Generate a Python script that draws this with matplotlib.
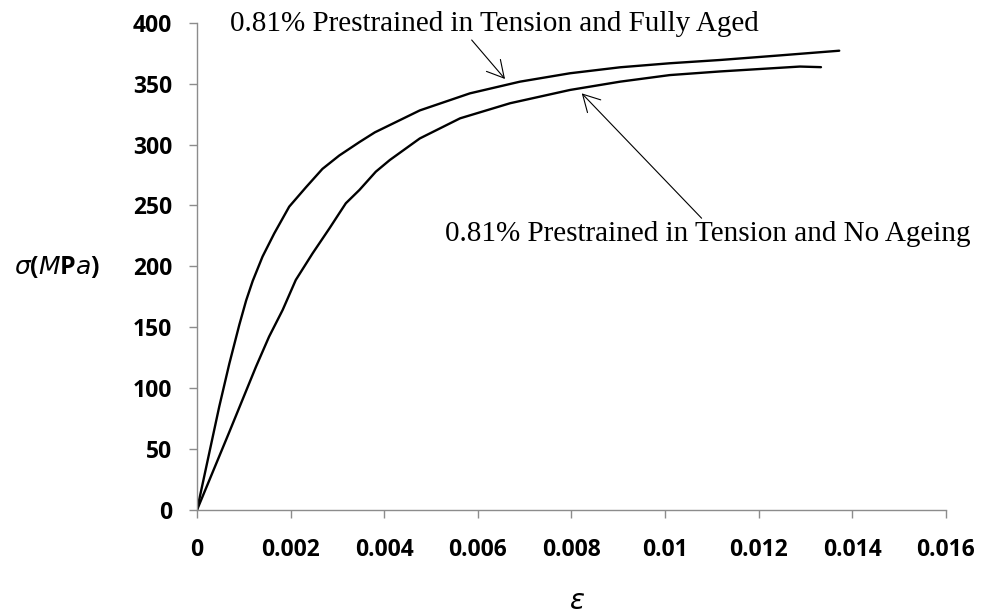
import matplotlib
matplotlib.use('Agg')
import matplotlib.pyplot as plt

# strain / stress
aged_strain = [0, 0.000263, 0.000476, 0.00069, 0.000904, 0.00105, 0.00119, 0.0014,
               0.00165, 0.00197, 0.00233, 0.00268, 0.00304, 0.00347, 0.0038, 0.00476,
               0.00583, 0.0069, 0.00797, 0.00904, 0.0101, 0.01118, 0.0124, 0.01372]
aged_stress = [0, 47, 85, 120, 152, 172, 188, 208,
               227, 249, 265, 280, 291, 302, 310, 328,
               342, 351.6, 358.5, 363.4, 366.7, 369.4, 373, 377]

noage_strain = [0, 0.00069, 0.00126, 0.00154, 0.00183, 0.00211, 0.00247, 0.00283,
                0.00304, 0.00318, 0.00347, 0.00382, 0.00412, 0.00476, 0.00562, 0.00669,
                0.00797, 0.00904, 0.0101, 0.01118, 0.01288, 0.01333]
noage_stress = [0, 64, 117.6, 142.3, 164.2, 188.8, 210.7, 231.2,
                243.6, 251.8, 262.7, 277.7, 287.3, 305, 321.5, 333.9,
                344.8, 351.6, 357, 360, 364, 363.5]

xticks = [0, 0.002, 0.004, 0.006, 0.008, 0.01, 0.012, 0.014, 0.016]
xticklabels = ['0', '0.002', '0.004', '0.006', '0.008', '0.01', '0.012', '0.014', '0.016']
yticks = [0, 50, 100, 150, 200, 250, 300, 350, 400]

label_aged = '0.81% Prestrained in Tension and Fully Aged'
label_noage = '0.81% Prestrained in Tension and No Ageing'

fig = plt.figure(figsize=(9.82, 6.15), dpi=100)
ax = fig.add_axes([0.2006, 0.1707, 0.7627, 0.7924])

ax.plot(aged_strain, aged_stress, color='black', lw=1.7,
        solid_capstyle='round', solid_joinstyle='round')
ax.plot(noage_strain, noage_stress, color='black', lw=1.7,
        solid_capstyle='round', solid_joinstyle='round')

ax.set_xlim(0, 0.016)
ax.set_ylim(0, 400)
ax.set_xticks(xticks)
ax.set_xticklabels(xticklabels)
ax.set_yticks(yticks)

for s in ['top', 'right']:
    ax.spines[s].set_visible(False)
for s in ['left', 'bottom']:
    ax.spines[s].set_color('#8c8c8c')
    ax.spines[s].set_linewidth(1.0)

ax.tick_params(axis='both', direction='out', length=6, width=1.0, color='#8c8c8c')
ax.tick_params(axis='y', pad=12)
ax.tick_params(axis='x', pad=14)
for lab in ax.get_xticklabels() + ax.get_yticklabels():
    lab.set_fontfamily('Open Sans')
    lab.set_fontweight('bold')
    lab.set_fontsize(16.5)

# axis titles
fig.text(0.058, 1 - 267 / 615, r'$\sigma$($M$P$a$)', fontsize=18, fontweight='bold',
         fontfamily='Open Sans', ha='center', va='center')
fig.text(577 / 982, 1 - 609 / 615, r'$\varepsilon$', fontsize=20, ha='center', va='baseline')

# curve labels with arrows
ax.text(0.000705, 393.5, label_aged, fontfamily='Liberation Serif', fontsize=21,
        ha='left', va='baseline', clip_on=False)
ax.text(0.0053, 221, label_noage, fontfamily='Liberation Serif', fontsize=21,
        ha='left', va='baseline', clip_on=False)

arrow = dict(arrowstyle='->,head_length=0.6,head_width=0.33', color='black', lw=0.8,
             shrinkA=0, shrinkB=0, mutation_scale=20)
ax.annotate('', xy=(0.00658, 353.8), xytext=(0.005868, 385.8), arrowprops=arrow,
            annotation_clip=False)
ax.annotate('', xy=(0.00822, 342), xytext=(0.01078, 239.5), arrowprops=arrow,
            annotation_clip=False)

fig.savefig('out.png', dpi=100)
